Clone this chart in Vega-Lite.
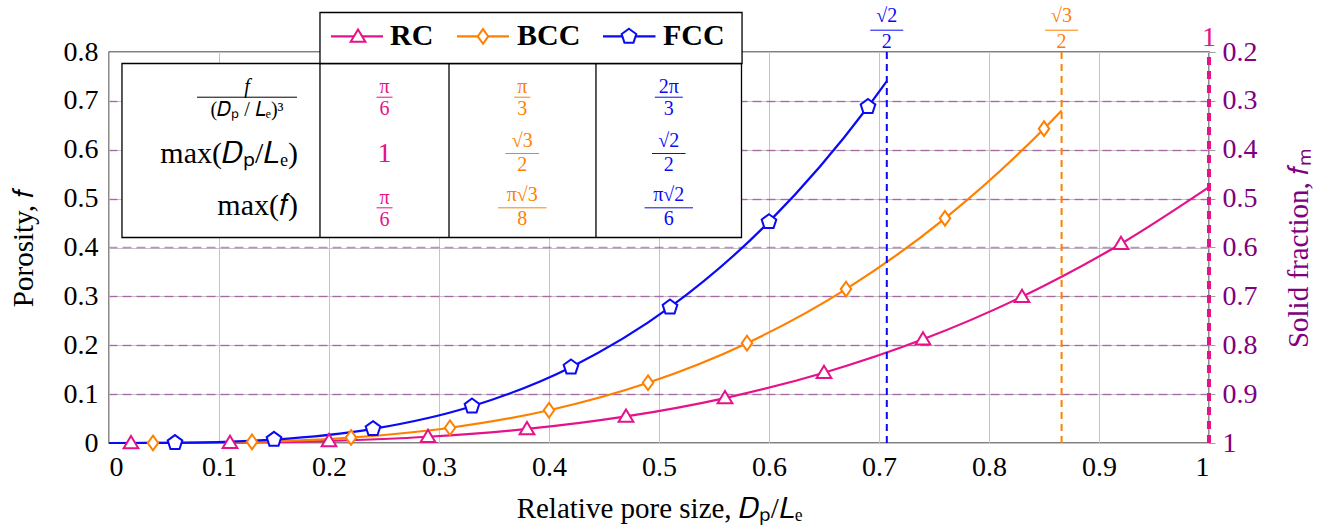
{
  "$schema": "https://vega.github.io/schema/vega-lite/v6.json",
  "width": 1100,
  "height": 391,
  "autosize": "none",
  "padding": {"left": 109, "top": 52, "right": 118, "bottom": 89},
  "datasets": {
    "curves": [
      {"series": "RC", "x": 0, "f": 0, "m": 0},
      {"series": "RC", "x": 0.02, "f": 0.0000042, "m": 1},
      {"series": "RC", "x": 0.11, "f": 0.000697, "m": 1},
      {"series": "RC", "x": 0.2, "f": 0.00419, "m": 1},
      {"series": "RC", "x": 0.29, "f": 0.01277, "m": 1},
      {"series": "RC", "x": 0.38, "f": 0.02873, "m": 1},
      {"series": "RC", "x": 0.47, "f": 0.05436, "m": 1},
      {"series": "RC", "x": 0.56, "f": 0.09196, "m": 1},
      {"series": "RC", "x": 0.65, "f": 0.1438, "m": 1},
      {"series": "RC", "x": 0.74, "f": 0.21217, "m": 1},
      {"series": "RC", "x": 0.83, "f": 0.29939, "m": 1},
      {"series": "RC", "x": 0.92, "f": 0.40772, "m": 1},
      {"series": "RC", "x": 1.0, "f": 0.5236, "m": 0},
      {"series": "BCC", "x": 0, "f": 0, "m": 0},
      {"series": "BCC", "x": 0.04, "f": 0.000067, "m": 1},
      {"series": "BCC", "x": 0.13, "f": 0.0023, "m": 1},
      {"series": "BCC", "x": 0.22, "f": 0.01115, "m": 1},
      {"series": "BCC", "x": 0.31, "f": 0.0312, "m": 1},
      {"series": "BCC", "x": 0.4, "f": 0.06702, "m": 1},
      {"series": "BCC", "x": 0.49, "f": 0.1232, "m": 1},
      {"series": "BCC", "x": 0.58, "f": 0.20433, "m": 1},
      {"series": "BCC", "x": 0.67, "f": 0.31496, "m": 1},
      {"series": "BCC", "x": 0.76, "f": 0.4597, "m": 1},
      {"series": "BCC", "x": 0.85, "f": 0.64312, "m": 1},
      {"series": "BCC", "x": 0.866, "f": 0.6802, "m": 0},
      {"series": "FCC", "x": 0, "f": 0, "m": 0},
      {"series": "FCC", "x": 0.06, "f": 0.000452, "m": 1},
      {"series": "FCC", "x": 0.15, "f": 0.00707, "m": 1},
      {"series": "FCC", "x": 0.24, "f": 0.02895, "m": 1},
      {"series": "FCC", "x": 0.33, "f": 0.07527, "m": 1},
      {"series": "FCC", "x": 0.42, "f": 0.15517, "m": 1},
      {"series": "FCC", "x": 0.51, "f": 0.27783, "m": 1},
      {"series": "FCC", "x": 0.6, "f": 0.45239, "m": 1},
      {"series": "FCC", "x": 0.69, "f": 0.68803, "m": 1},
      {"series": "FCC", "x": 0.7071, "f": 0.7405, "m": 0}
    ]
  },
  "config": {
    "view": {"stroke": "#000000", "strokeWidth": 1.3},
    "axis": {
      "labelFont": "Liberation Serif",
      "titleFont": "Liberation Serif",
      "labelFontSize": 28,
      "titleFontSize": 29,
      "titleFontWeight": "normal",
      "labelColor": "#000000",
      "titleColor": "#000000",
      "domain": false,
      "ticks": false,
      "gridColor": "#C4C4C4",
      "gridOpacity": 1,
      "gridWidth": 1
    },
    "text": {"font": "Liberation Serif"}
  },
  "layer": [
    {
      "layer": [
        {
          "data": {"name": "curves"},
          "mark": {"type": "line", "interpolate": "monotone", "strokeWidth": 2.2},
          "encoding": {
            "x": {
              "field": "x", "type": "quantitative",
              "scale": {"domain": [0, 1], "nice": false},
              "axis": {
                "values": [0, 0.1, 0.2, 0.3, 0.4, 0.5, 0.6, 0.7, 0.8, 0.9, 1],
                "format": ".1~f", "labelPadding": 10, "titlePadding": 13,
                "title": "Relative pore size, 𝐷ₚ/𝐿ₑ", "grid": true
              }
            },
            "y": {
              "field": "f", "type": "quantitative",
              "scale": {"domain": [0, 0.8], "nice": false},
              "axis": {
                "orient": "left",
                "values": [0, 0.1, 0.2, 0.3, 0.4, 0.5, 0.6, 0.7, 0.8],
                "format": ".1~f", "labelPadding": 11, "titlePadding": 25,
                "title": "Porosity, 𝑓", "grid": true
              }
            },
            "stroke": {
              "field": "series", "type": "nominal",
              "scale": {"domain": ["RC", "BCC", "FCC"], "range": ["#E5128A", "#FF8000", "#0A0AF5"]},
              "legend": null
            }
          }
        },
        {
          "data": {"values": [{}]},
          "mark": {"type": "rule", "color": "#0A0AF5", "strokeWidth": 2, "strokeDash": [7, 5]},
          "encoding": {"x": {"datum": 0.7071}, "y": {"datum": 0}, "y2": {"datum": 0.8}}
        },
        {
          "data": {"values": [{}]},
          "mark": {"type": "rule", "color": "#FF8000", "strokeWidth": 2, "strokeDash": [7, 5]},
          "encoding": {"x": {"datum": 0.866}, "y": {"datum": 0}, "y2": {"datum": 0.8}}
        },
        {
          "data": {"values": [{}]},
          "mark": {"type": "rule", "color": "#E5128A", "strokeWidth": 4, "strokeDash": [8, 6]},
          "encoding": {"x": {"datum": 1}, "y": {"datum": 0}, "y2": {"datum": 0.8}}
        },
        {
          "data": {"name": "curves"},
          "transform": [{"filter": "datum.m == 1"}],
          "mark": {"type": "point", "fill": "white", "opacity": 1, "strokeWidth": 2, "size": 196},
          "encoding": {
            "x": {"field": "x", "type": "quantitative"},
            "y": {"field": "f", "type": "quantitative"},
            "stroke": {"field": "series", "type": "nominal", "legend": null},
            "shape": {
              "field": "series", "type": "nominal",
              "scale": {"domain": ["RC", "BCC", "FCC"], "range": ["M0,-1L1.05,0.75L-1.05,0.75Z", "M0,-1.05L0.75,0L0,1.05L-0.75,0Z", "M0,-1.1L1.046,-0.34L0.647,0.89L-0.647,0.89L-1.046,-0.34Z"]},
              "legend": null
            }
          }
        },
        {
          "data": {"values": [{}]},
          "mark": {"type": "rect", "fill": "white", "stroke": "black", "strokeWidth": 1.3},
          "encoding": {"x": {"datum": 0.0118}, "x2": {"datum": 0.575}, "y": {"datum": 0.4205}, "y2": {"datum": 0.7765}}
        },
        {
          "data": {"values": [{}]},
          "mark": {"type": "rule", "color": "black", "strokeWidth": 1.3},
          "encoding": {"x": {"datum": 0.1918}, "y": {"datum": 0.4205}, "y2": {"datum": 0.7765}}
        },
        {
          "data": {"values": [{}]},
          "mark": {"type": "rule", "color": "black", "strokeWidth": 1.3},
          "encoding": {"x": {"datum": 0.3091}, "y": {"datum": 0.4205}, "y2": {"datum": 0.7765}}
        },
        {
          "data": {"values": [{}]},
          "mark": {"type": "rule", "color": "black", "strokeWidth": 1.3},
          "encoding": {"x": {"datum": 0.4427}, "y": {"datum": 0.4205}, "y2": {"datum": 0.7765}}
        },
        {
          "data": {"values": [{}]},
          "mark": {"type": "rect", "fill": "white", "stroke": "black", "strokeWidth": 1.3},
          "encoding": {"x": {"datum": 0.1918}, "x2": {"datum": 0.5755}, "y": {"datum": 0.7765}, "y2": {"datum": 0.8808}}
        },
        {
          "data": {"values": [{}]},
          "mark": {"type": "rule", "color": "#E5128A", "strokeWidth": 2.2},
          "encoding": {"x": {"datum": 0.2018}, "x2": {"datum": 0.2491}, "y": {"datum": 0.8319}}
        },
        {
          "data": {"values": [{}]},
          "mark": {"type": "point", "shape": "M0,-1L1.05,0.75L-1.05,0.75Z", "size": 196, "fill": "white", "stroke": "#E5128A", "strokeWidth": 2, "opacity": 1},
          "encoding": {"x": {"datum": 0.2264}, "y": {"datum": 0.8319}}
        },
        {
          "data": {"values": [{}]},
          "mark": {"type": "text", "font": "Liberation Serif", "fontWeight": "bold", "fontSize": 30, "align": "left", "baseline": "middle", "color": "black"},
          "encoding": {"x": {"datum": 0.2555}, "y": {"datum": 0.8319}, "text": {"value": "RC"}}
        },
        {
          "data": {"values": [{}]},
          "mark": {"type": "rule", "color": "#FF8000", "strokeWidth": 2.2},
          "encoding": {"x": {"datum": 0.3164}, "x2": {"datum": 0.3636}, "y": {"datum": 0.8319}}
        },
        {
          "data": {"values": [{}]},
          "mark": {"type": "point", "shape": "M0,-1.05L0.75,0L0,1.05L-0.75,0Z", "size": 196, "fill": "white", "stroke": "#FF8000", "strokeWidth": 2, "opacity": 1},
          "encoding": {"x": {"datum": 0.34}, "y": {"datum": 0.8319}}
        },
        {
          "data": {"values": [{}]},
          "mark": {"type": "text", "font": "Liberation Serif", "fontWeight": "bold", "fontSize": 30, "align": "left", "baseline": "middle", "color": "black"},
          "encoding": {"x": {"datum": 0.3709}, "y": {"datum": 0.8319}, "text": {"value": "BCC"}}
        },
        {
          "data": {"values": [{}]},
          "mark": {"type": "rule", "color": "#0A0AF5", "strokeWidth": 2.2},
          "encoding": {"x": {"datum": 0.4491}, "x2": {"datum": 0.4968}, "y": {"datum": 0.8319}}
        },
        {
          "data": {"values": [{}]},
          "mark": {"type": "point", "shape": "M0,-1.1L1.046,-0.34L0.647,0.89L-0.647,0.89L-1.046,-0.34Z", "size": 196, "fill": "white", "stroke": "#0A0AF5", "strokeWidth": 2, "opacity": 1},
          "encoding": {"x": {"datum": 0.4727}, "y": {"datum": 0.8319}}
        },
        {
          "data": {"values": [{}]},
          "mark": {"type": "text", "font": "Liberation Serif", "fontWeight": "bold", "fontSize": 30, "align": "left", "baseline": "middle", "color": "black"},
          "encoding": {"x": {"datum": 0.5036}, "y": {"datum": 0.8319}, "text": {"value": "FCC"}}
        },
        {
          "data": {"values": [{}]},
          "mark": {"type": "text", "font": "Liberation Serif", "fontSize": 20, "fontStyle": "italic", "align": "center", "baseline": "middle", "color": "black"},
          "encoding": {"x": {"datum": 0.1255}, "y": {"datum": 0.7274}, "text": {"value": "f"}}
        },
        {
          "data": {"values": [{}]},
          "mark": {"type": "rule", "color": "black", "strokeWidth": 1},
          "encoding": {"x": {"datum": 0.08}, "x2": {"datum": 0.1709}, "y": {"datum": 0.7075}}
        },
        {
          "data": {"values": [{}]},
          "mark": {"type": "text", "font": "Liberation Serif", "fontSize": 20, "align": "center", "baseline": "middle", "color": "black"},
          "encoding": {"x": {"datum": 0.1255}, "y": {"datum": 0.6813}, "text": {"value": "(𝐷ₚ / 𝐿ₑ)³"}}
        },
        {
          "data": {"values": [{}]},
          "mark": {"type": "text", "font": "Liberation Serif", "fontSize": 30, "align": "right", "baseline": "middle", "color": "black"},
          "encoding": {"x": {"datum": 0.1718}, "y": {"datum": 0.5903}, "text": {"value": "max(𝐷ₚ/𝐿ₑ)"}}
        },
        {
          "data": {"values": [{}]},
          "mark": {"type": "text", "font": "Liberation Serif", "fontSize": 30, "align": "right", "baseline": "middle", "color": "black"},
          "encoding": {"x": {"datum": 0.1718}, "y": {"datum": 0.4839}, "text": {"value": "max(𝑓)"}}
        },
        {
          "data": {"values": [{}]},
          "mark": {"type": "text", "font": "Liberation Serif", "fontSize": 20, "align": "center", "baseline": "middle", "lineHeight": 22, "color": "#E5128A"},
          "encoding": {"x": {"datum": 0.2505}, "y": {"datum": 0.7274}, "text": {"value": ["π", "6"]}}
        },
        {
          "data": {"values": [{}]},
          "mark": {"type": "rule", "color": "#E5128A", "strokeWidth": 1},
          "encoding": {"x": {"datum": 0.2432}, "x2": {"datum": 0.2578}, "y": {"datum": 0.7075}}
        },
        {
          "data": {"values": [{}]},
          "mark": {"type": "text", "font": "Liberation Serif", "fontSize": 20, "align": "center", "baseline": "middle", "lineHeight": 22, "color": "#FF8000"},
          "encoding": {"x": {"datum": 0.3757}, "y": {"datum": 0.7274}, "text": {"value": ["π", "3"]}}
        },
        {
          "data": {"values": [{}]},
          "mark": {"type": "rule", "color": "#FF8000", "strokeWidth": 1},
          "encoding": {"x": {"datum": 0.3684}, "x2": {"datum": 0.383}, "y": {"datum": 0.7075}}
        },
        {
          "data": {"values": [{}]},
          "mark": {"type": "text", "font": "Liberation Serif", "fontSize": 20, "align": "center", "baseline": "middle", "lineHeight": 22, "color": "#0A0AF5"},
          "encoding": {"x": {"datum": 0.5089}, "y": {"datum": 0.7274}, "text": {"value": ["2π", "3"]}}
        },
        {
          "data": {"values": [{}]},
          "mark": {"type": "rule", "color": "#0A0AF5", "strokeWidth": 1},
          "encoding": {"x": {"datum": 0.4962}, "x2": {"datum": 0.5216}, "y": {"datum": 0.7075}}
        },
        {
          "data": {"values": [{}]},
          "mark": {"type": "text", "font": "Liberation Serif", "fontSize": 28, "align": "center", "baseline": "middle", "color": "#E5128A"},
          "encoding": {"x": {"datum": 0.2505}, "y": {"datum": 0.5903}, "text": {"value": "1"}}
        },
        {
          "data": {"values": [{}]},
          "mark": {"type": "text", "font": "Liberation Serif", "fontSize": 20, "align": "center", "baseline": "middle", "lineHeight": 24, "color": "#FF8000"},
          "encoding": {"x": {"datum": 0.3757}, "y": {"datum": 0.6169}, "text": {"value": ["√3", "2"]}}
        },
        {
          "data": {"values": [{}]},
          "mark": {"type": "rule", "color": "#FF8000", "strokeWidth": 1},
          "encoding": {"x": {"datum": 0.3604}, "x2": {"datum": 0.391}, "y": {"datum": 0.5923}}
        },
        {
          "data": {"values": [{}]},
          "mark": {"type": "text", "font": "Liberation Serif", "fontSize": 20, "align": "center", "baseline": "middle", "lineHeight": 24, "color": "#0A0AF5"},
          "encoding": {"x": {"datum": 0.5089}, "y": {"datum": 0.6169}, "text": {"value": ["√2", "2"]}}
        },
        {
          "data": {"values": [{}]},
          "mark": {"type": "rule", "color": "#0A0AF5", "strokeWidth": 1},
          "encoding": {"x": {"datum": 0.4936}, "x2": {"datum": 0.5242}, "y": {"datum": 0.5923}}
        },
        {
          "data": {"values": [{}]},
          "mark": {"type": "text", "font": "Liberation Serif", "fontSize": 20, "align": "center", "baseline": "middle", "lineHeight": 22, "color": "#E5128A"},
          "encoding": {"x": {"datum": 0.2505}, "y": {"datum": 0.5013}, "text": {"value": ["π", "6"]}}
        },
        {
          "data": {"values": [{}]},
          "mark": {"type": "rule", "color": "#E5128A", "strokeWidth": 1},
          "encoding": {"x": {"datum": 0.2432}, "x2": {"datum": 0.2578}, "y": {"datum": 0.4812}}
        },
        {
          "data": {"values": [{}]},
          "mark": {"type": "text", "font": "Liberation Serif", "fontSize": 20, "align": "center", "baseline": "middle", "lineHeight": 24, "color": "#FF8000"},
          "encoding": {"x": {"datum": 0.3757}, "y": {"datum": 0.5064}, "text": {"value": ["π√3", "8"]}}
        },
        {
          "data": {"values": [{}]},
          "mark": {"type": "rule", "color": "#FF8000", "strokeWidth": 1},
          "encoding": {"x": {"datum": 0.3537}, "x2": {"datum": 0.3977}, "y": {"datum": 0.4812}}
        },
        {
          "data": {"values": [{}]},
          "mark": {"type": "text", "font": "Liberation Serif", "fontSize": 20, "align": "center", "baseline": "middle", "lineHeight": 24, "color": "#0A0AF5"},
          "encoding": {"x": {"datum": 0.5089}, "y": {"datum": 0.5064}, "text": {"value": ["π√2", "6"]}}
        },
        {
          "data": {"values": [{}]},
          "mark": {"type": "rule", "color": "#0A0AF5", "strokeWidth": 1},
          "encoding": {"x": {"datum": 0.4869}, "x2": {"datum": 0.5309}, "y": {"datum": 0.4812}}
        },
        {
          "data": {"values": [{}]},
          "mark": {"type": "text", "font": "Liberation Serif", "fontSize": 20, "align": "center", "baseline": "middle", "lineHeight": 26, "color": "#0A0AF5"},
          "encoding": {"x": {"datum": 0.7071}, "y": {"datum": 0.8732}, "text": {"value": ["√2", "2"]}}
        },
        {
          "data": {"values": [{}]},
          "mark": {"type": "rule", "color": "#0A0AF5", "strokeWidth": 1},
          "encoding": {"x": {"datum": 0.6921}, "x2": {"datum": 0.7221}, "y": {"datum": 0.8446}}
        },
        {
          "data": {"values": [{}]},
          "mark": {"type": "text", "font": "Liberation Serif", "fontSize": 20, "align": "center", "baseline": "middle", "lineHeight": 26, "color": "#FF8000"},
          "encoding": {"x": {"datum": 0.866}, "y": {"datum": 0.8732}, "text": {"value": ["√3", "2"]}}
        },
        {
          "data": {"values": [{}]},
          "mark": {"type": "rule", "color": "#FF8000", "strokeWidth": 1},
          "encoding": {"x": {"datum": 0.851}, "x2": {"datum": 0.881}, "y": {"datum": 0.8446}}
        },
        {
          "data": {"values": [{}]},
          "mark": {"type": "text", "font": "Liberation Serif", "fontSize": 28, "align": "center", "baseline": "middle", "color": "#E5128A"},
          "encoding": {"x": {"datum": 1}, "y": {"datum": 0.8286}, "text": {"value": "1"}}
        }
      ]
    },
    {
      "data": {"values": [{"fm": 1}, {"fm": 0.2}]},
      "mark": {"type": "point", "opacity": 0},
      "encoding": {
        "y": {
          "field": "fm", "type": "quantitative",
          "scale": {"domain": [0.2, 1], "reverse": true, "nice": false, "zero": false},
          "axis": {
            "orient": "right",
            "values": [0.2, 0.3, 0.4, 0.5, 0.6, 0.7, 0.8, 0.9, 1],
            "format": ".1~f",
            "labelColor": "#800080",
            "titleColor": "#800080",
            "ticks": true, "tickColor": "#A0A0A0", "tickSize": 6,
            "labelPadding": 7,
            "title": "Solid fraction, 𝑓ₘ",
            "titleAngle": 270,
            "titlePadding": 56,
            "grid": true,
            "gridColor": "#800080",
            "gridDash": [9, 5],
            "gridWidth": 1.3,
            "gridOpacity": {"condition": {"test": "datum.value < 0.25 || datum.value > 0.95", "value": 0}, "value": 0.45}
          }
        }
      }
    }
  ],
  "resolve": {"scale": {"y": "independent"}}
}
